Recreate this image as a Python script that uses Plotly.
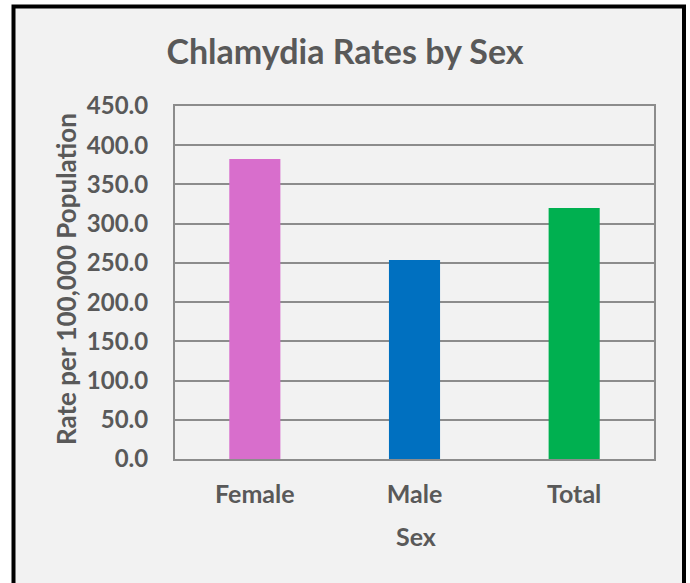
import plotly.graph_objects as go

categories = ["Female", "Male", "Total"]
rates = [382.4, 253.7, 320.0]
bar_colors = ["#D86ECC", "#0070C0", "#00B050"]
y_ticks = [0, 50, 100, 150, 200, 250, 300, 350, 400, 450]

W, H = 690, 583
L, R, T, B = 175, 36, 106, 124   # plot area: x 175..654, y 106..459
pw, ph = W - L - R, H - T - B
font_family = "Lato, 'Open Sans', sans-serif"
grey_text = "#595959"
grid = "#8C8C8C"

fig = go.Figure(go.Bar(
    x=categories,
    y=rates,
    marker=dict(color=bar_colors, line=dict(width=0)),
    width=0.32,
))

fig.update_layout(
    width=W, height=H,
    margin=dict(l=L, r=R, t=T, b=B),
    paper_bgcolor="white",
    plot_bgcolor="#F2F2F2",
    showlegend=False,
    title=dict(
        text="<b>Chlamydia Rates by Sex</b>",
        x=0.5, xanchor="center",
        y=1 - 52 / H, yanchor="middle",
        font=dict(family=font_family, size=34, color=grey_text),
    ),
    font=dict(family=font_family, color=grey_text),
    # outer frame with light grey fill
    shapes=[dict(
        type="rect", xref="paper", yref="paper", layer="below",
        x0=(13.5 - L) / pw, x1=(684 - L) / pw,
        y0=(H - T - 620) / ph, y1=(H - B - 6.5) / ph,
        line=dict(color="black", width=4),
        fillcolor="#F2F2F2",
    )],
    annotations=[
        dict(text="<b>Rate per 100,000 Population</b>", textangle=-90,
             xref="paper", yref="paper", showarrow=False,
             x=(66 - L) / pw, y=(H - B - 279) / ph,
             xanchor="center", yanchor="middle",
             font=dict(size=26, color=grey_text)),
        dict(text="<b>Sex</b>",
             xref="paper", yref="paper", showarrow=False,
             x=(416 - L) / pw, y=(H - B - 536) / ph,
             xanchor="center", yanchor="middle",
             font=dict(size=25, color=grey_text)),
    ],
)

fig.update_yaxes(
    range=[0, 450],
    tickvals=y_ticks,
    ticktext=[f"<b>{v:.1f}</b>" for v in y_ticks],
    tickfont=dict(size=24, color=grey_text),
    showgrid=True, gridcolor=grid, gridwidth=2,
    showline=True, linecolor=grid, linewidth=2, mirror=True,
    zeroline=False,
    ticks="outside", ticklen=20, tickcolor="rgba(0,0,0,0)",
    fixedrange=True,
)

fig.update_xaxes(
    tickvals=categories,
    ticktext=[f"<b>{c}</b>" for c in categories],
    tickfont=dict(size=25, color=grey_text),
    showline=True, linecolor=grid, linewidth=2, mirror=True,
    ticks="outside", ticklen=12, tickcolor="rgba(0,0,0,0)",
    fixedrange=True,
)

fig.write_html("out.html", config={"displayModeBar": False},
               post_script="document.body.style.margin='0px';")
